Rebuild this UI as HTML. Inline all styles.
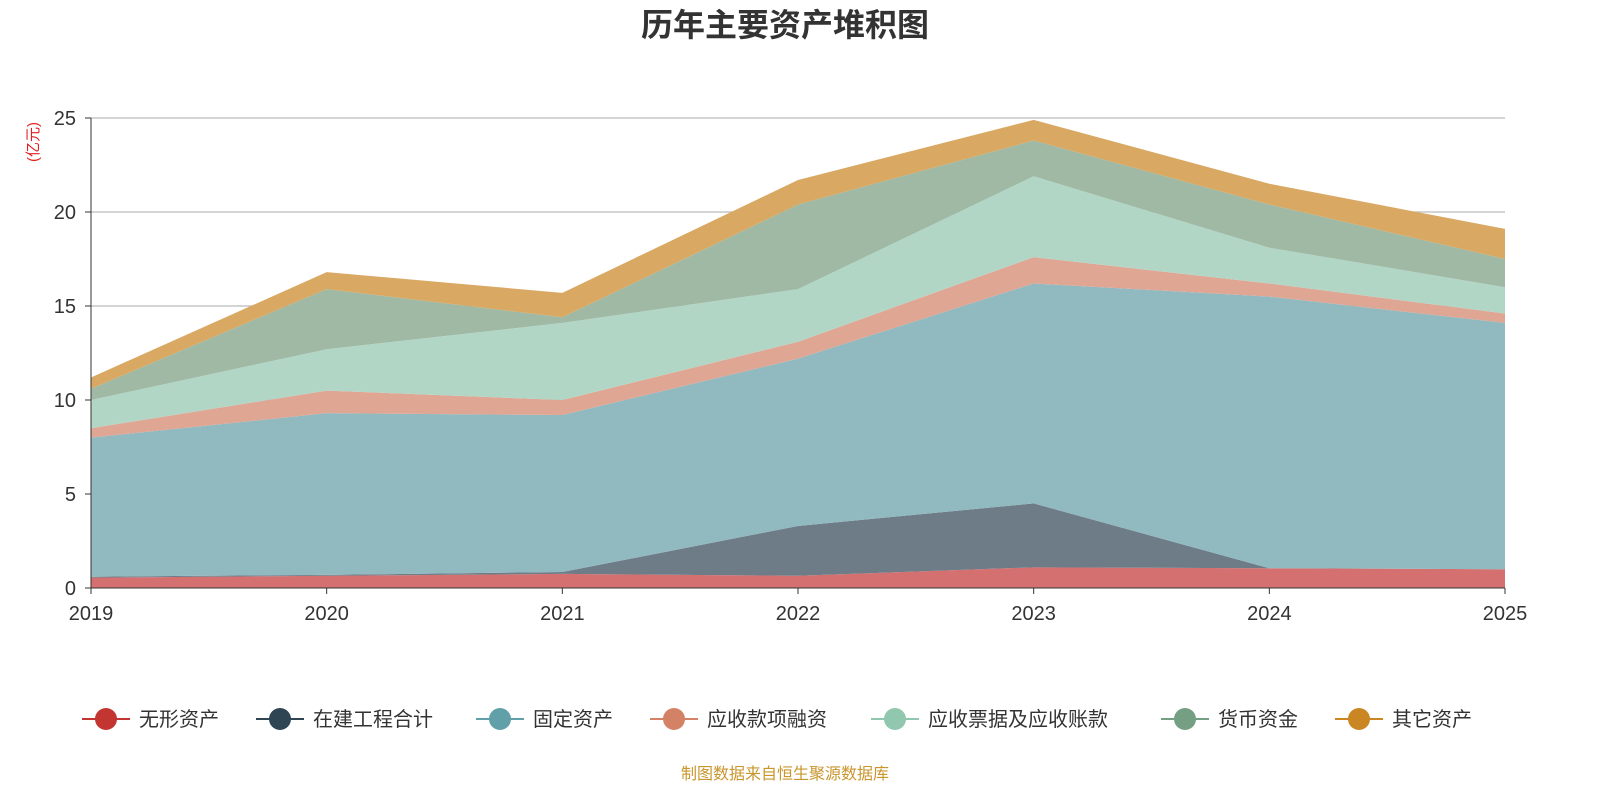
<!DOCTYPE html>
<html><head><meta charset="utf-8">
<style>
body{margin:0;background:#fff;width:1600px;height:800px;overflow:hidden;font-family:"Liberation Sans","Noto Sans CJK SC",sans-serif;}
</style></head>
<body>
<svg id="chart" width="1600" height="800" xmlns="http://www.w3.org/2000/svg" font-family="Liberation Sans, Noto Sans CJK SC, sans-serif">
<text x="785" y="36" text-anchor="middle" font-size="32" font-weight="bold" fill="#333">历年主要资产堆积图</text>
<text transform="translate(38,142) rotate(-90)" text-anchor="middle" font-size="15" fill="#e02020">(亿元)</text>
<g id="grid"></g><g id="areas"></g><g id="axes"></g>
<g id="legend"></g>
<text x="785" y="779" text-anchor="middle" font-size="16" fill="#c9962c">制图数据来自恒生聚源数据库</text>
</svg>
<script>
const years=["2019","2020","2021","2022","2023","2024","2025"];
const seriesNames=["无形资产","在建工程合计","固定资产","应收款项融资","应收票据及应收账款","货币资金","其它资产"];
const s0=[0.55,0.65,0.75,0.65,1.1,1.05,1.0];
const s1=[0.05,0.05,0.1,2.65,3.4,0,0];
const s2=[7.4,8.6,8.35,8.9,11.7,14.45,13.1];
const s3=[0.5,1.2,0.8,0.9,1.4,0.7,0.5];
const s4=[1.5,2.2,4.1,2.8,4.3,1.9,1.4];
const s5=[0.6,3.2,0.3,4.5,1.9,2.3,1.5];
const s6=[0.6,0.9,1.3,1.3,1.1,1.1,1.6];
const yTicks=[0,5,10,15,20,25];
const series=[s0,s1,s2,s3,s4,s5,s6];
const fills=["#d47070","#6e7c87","#91b9c0","#e0a694","#b2d6c6","#9fb9a5","#d9a862"];
const legendColors=["#c23531","#2f4554","#61a0a8","#d48265","#91c7ae","#749f83","#ca8622"];
const X=i=>91+i*(1505-91)/(years.length-1);
const Y=v=>588-v*(588-118)/25;
const NS="http://www.w3.org/2000/svg";
function mk(t,a,p){const e=document.createElementNS(NS,t);for(const k in a)e.setAttribute(k,a[k]);p.appendChild(e);return e;}
const grid=document.getElementById('grid'),areas=document.getElementById('areas'),axes=document.getElementById('axes'),legend=document.getElementById('legend');
yTicks.forEach(t=>{
 if(t>0){const g=mk('line',{x1:91,x2:1505,y1:Y(t),y2:Y(t),stroke:'#bbb','stroke-width':1.2},grid);
 
 }
 const tl=mk('text',{x:76,y:Y(t)+7,'text-anchor':'end','font-size':20,fill:'#333'},axes);tl.textContent=t;
 
 
 mk('line',{x1:85,x2:91,y1:Y(t),y2:Y(t),stroke:'#333'},axes);
});
let base=years.map(()=>0);
series.forEach((s,k)=>{
 const top=base.map((b,i)=>b+s[i]);
 let d='';top.forEach((v,i)=>d+=(i?'L':'M')+X(i)+','+Y(v));
 for(let i=years.length-1;i>=0;i--)d+='L'+X(i)+','+Y(base[i]);
 const p=mk('path',{d:d+'Z',fill:fills[k]},areas);
 
 
 base=top;
});
mk('line',{x1:91,x2:91,y1:118,y2:588,stroke:'#333'},axes);
mk('line',{x1:91,x2:1505,y1:588,y2:588,stroke:'#333'},axes);
years.forEach((y,i)=>{
 mk('line',{x1:X(i),x2:X(i),y1:588,y2:594,stroke:'#333'},axes);
 const t=mk('text',{x:X(i),y:620,'text-anchor':'middle','font-size':20,fill:'#333'},axes);t.textContent=y;
 
 
});
const lx=[82,256,476,650,871,1161,1335];
seriesNames.forEach((n,k)=>{
 const g=mk('g',{},legend);
 
 
 mk('line',{x1:lx[k],x2:lx[k]+48,y1:719,y2:719,stroke:legendColors[k],'stroke-width':2},g);
 mk('circle',{cx:lx[k]+24,cy:719,r:11,fill:legendColors[k]},g);
 const t=mk('text',{x:lx[k]+57,y:726,'font-size':20,fill:'#333'},g);t.textContent=n;
});
</script>
</body></html>
